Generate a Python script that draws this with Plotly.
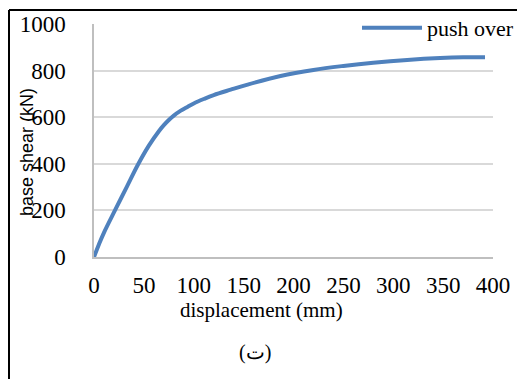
import plotly.graph_objects as go

# Data
displacement_mm = [0, 5, 10, 21, 33, 44, 55, 65, 70, 75, 80, 87, 94, 100, 110, 120, 137, 154, 187, 220, 250, 280, 314, 347, 370, 392]
base_shear_kN = [0, 55, 105, 200, 302, 396, 478, 540, 566, 588, 607, 628, 645, 659, 678, 695, 718, 740, 777, 803, 820, 834, 846, 854, 857, 857]
series_name = "push over"
x_ticks = [0, 50, 100, 150, 200, 250, 300, 350, 400]
y_ticks = [0, 200, 400, 600, 800, 1000]

# The page body has an 8px margin, so the figure is sized to fill the visible window
OFF = 8
W, H = 525 - OFF, 379 - OFF
L, R, T, B = 94 - OFF, 493 - OFF, 24 - OFF, 257 - OFF  # plot area in figure px


def px(xp):
    return (xp - OFF - L) / (R - L)


def py(yp):
    return (B - (yp - OFF)) / (B - T)


serif = "Liberation Serif, Times New Roman, serif"

fig = go.Figure()
fig.add_trace(go.Scatter(
    x=displacement_mm, y=base_shear_kN, mode="lines", name=series_name,
    line=dict(color="#4F81BD", width=4, shape="spline", smoothing=1.0),
    showlegend=True,
))

fig.update_layout(
    width=W, height=H,
    margin=dict(l=L, r=W - R, t=T, b=H - B, pad=0, autoexpand=False),
    paper_bgcolor="white", plot_bgcolor="white",
    font=dict(family=serif, size=23, color="black"),
    showlegend=True,
    legend=dict(x=px(357), y=py(28), xanchor="left", yanchor="middle",
                bgcolor="rgba(0,0,0,0)", font=dict(family=serif, size=22, color="black"),
                itemwidth=60, borderwidth=0, tracegroupgap=0),
    xaxis=dict(range=[0, 400], tickvals=x_ticks, showgrid=False, zeroline=False,
               showline=True, linecolor="#BFBFBF", linewidth=1.5, ticks="",
               ticklabelstandoff=7, tickfont=dict(family=serif, size=23, color="black")),
    yaxis=dict(range=[0, 1000], tickvals=y_ticks, showgrid=True, gridcolor="#D9D9D9", gridwidth=1.5,
               zeroline=False, showline=True, linecolor="#BFBFBF", linewidth=1.5, ticks="",
               ticklabelstandoff=22, tickfont=dict(family=serif, size=23, color="black")),
    annotations=[
        dict(text="displacement (mm)", xref="paper", yref="paper", x=px(261), y=py(310),
             xanchor="center", yanchor="middle", showarrow=False,
             font=dict(family=serif, size=21, color="black")),
        dict(text="base shear (kN)", xref="paper", yref="paper", x=px(27), y=py(152),
             xanchor="center", yanchor="middle", showarrow=False, textangle=-90,
             font=dict(family="Liberation Sans, Arial, sans-serif", size=18, color="black")),
        dict(text="(ت)", xref="paper", yref="paper", x=px(255), y=py(352),
             xanchor="center", yanchor="middle", showarrow=False,
             font=dict(family=serif, size=20, color="black")),
    ],
    shapes=[
        dict(type="line", xref="paper", yref="paper", x0=px(OFF + 1), x1=px(540), y0=py(10), y1=py(10),
             line=dict(color="black", width=2)),
        dict(type="line", xref="paper", yref="paper", x0=px(OFF + 1), x1=px(OFF + 1), y0=py(10), y1=py(400),
             line=dict(color="black", width=2)),
    ],
)

fig.write_html("out.html")
